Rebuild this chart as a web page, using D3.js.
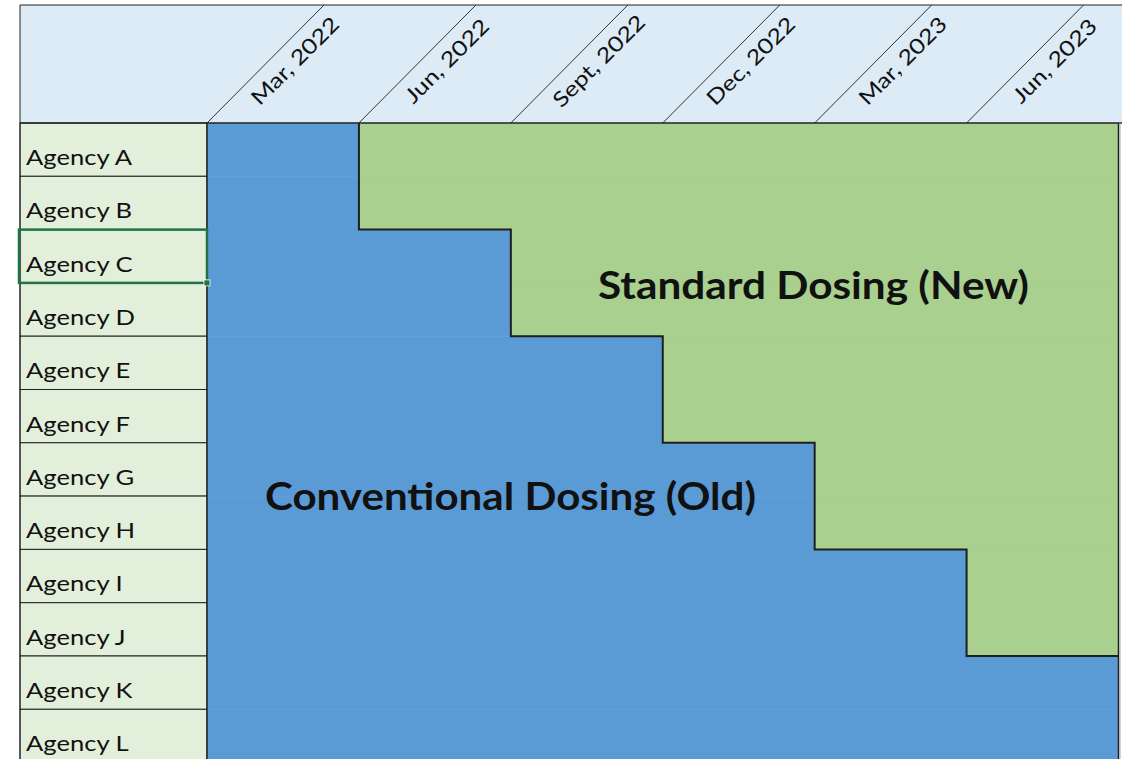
<!DOCTYPE html>
<html>
<head>
<meta charset="utf-8">
<script src="https://cdn.jsdelivr.net/npm/d3@7"></script>
<style>
  body { margin: 0; background: #fff; }
  svg { display: block; }
  text { font-family: Lato, "Open Sans", sans-serif; }
</style>
</head>
<body>
<svg width="1125" height="759"></svg>
<script>
// quarters along the top
const months = ["Mar, 2022", "Jun, 2022", "Sept, 2022", "Dec, 2022", "Mar, 2023", "Jun, 2023"];
// agencies down the side
const agencies = ["Agency A", "Agency B", "Agency C", "Agency D", "Agency E", "Agency F",
                  "Agency G", "Agency H", "Agency I", "Agency J", "Agency K", "Agency L"];
// quarter each agency switches to standard dosing (null = not yet)
const switchMonth = ["Jun, 2022", "Jun, 2022", "Sept, 2022", "Sept, 2022", "Dec, 2022", "Dec, 2022",
                     "Mar, 2023", "Mar, 2023", "Jun, 2023", "Jun, 2023", null, null];
const selectedAgency = "Agency C";

const blue = "#5b9bd5", green = "#a9d08e";
const headFill = "#ddebf7", sideFill = "#e2efda";

const svg = d3.select("svg");
const x0 = 20, y0 = 5, headBottom = 123, labelRight = 207, xMax = 1118.5;
const rowH = 53.3;

const x = d3.scaleBand().domain(months).range([labelRight, xMax]);
const y = d3.scaleBand().domain(agencies).range([headBottom, headBottom + rowH * agencies.length]);
const xEnd = x.range()[1];

// header band
svg.append("rect")
    .attr("x", x0).attr("y", y0)
    .attr("width", 1122 - x0).attr("height", headBottom - y0)
    .attr("fill", headFill);
svg.append("line")
    .attr("x1", x0).attr("x2", 1122).attr("y1", y0).attr("y2", y0)
    .attr("stroke", "#222").attr("stroke-width", 1.2);

// diagonal header dividers + labels
const rise = headBottom - y0;
const head = svg.append("g").selectAll("g").data(months).join("g");
head.append("line")
    .attr("x1", d => x(d)).attr("y1", headBottom)
    .attr("x2", d => x(d) + rise - 1).attr("y2", y0)
    .attr("stroke", "#333").attr("stroke-width", 1);
head.append("text")
    .attr("transform", d => `translate(${x(d) + 88},${61}) rotate(-45) scale(1.2,1)`)
    .attr("text-anchor", "middle")
    .attr("dy", "0.35em")
    .attr("font-size", 21)
    .attr("fill", "#111")
    .text(d => d);

// left label column
const rows = svg.append("g").selectAll("g").data(agencies).join("g");
rows.append("rect")
    .attr("x", x0).attr("y", d => y(d))
    .attr("width", labelRight - x0).attr("height", y.bandwidth())
    .attr("fill", sideFill)
    .attr("stroke", "#222").attr("stroke-width", 1);
rows.append("text")
    .attr("transform", d => `translate(${x0 + 6},${y(d) + 42}) scale(1.22,1)`)
    .attr("font-size", 21)
    .attr("fill", "#111")
    .text(d => d);

// blue (old) and green (new) cells
svg.append("g").selectAll("rect").data(agencies).join("rect")
    .attr("x", x(months[0])).attr("y", d => y(d))
    .attr("width", xEnd - x(months[0])).attr("height", y.bandwidth() + 0.5)
    .attr("fill", blue);

const greenRows = agencies.map((a, i) => ({ a, m: switchMonth[i] })).filter(d => d.m);
svg.append("g").selectAll("rect").data(greenRows).join("rect")
    .attr("x", d => x(d.m)).attr("y", d => y(d.a))
    .attr("width", d => xEnd - x(d.m)).attr("height", y.bandwidth() + 0.5)
    .attr("fill", green);

// step outline around the new-dosing area
const pts = [];
greenRows.forEach(d => {
    pts.push([x(d.m), y(d.a)]);
    pts.push([x(d.m), y(d.a) + y.bandwidth()]);
});
const last = greenRows[greenRows.length - 1];
pts.push([xEnd, y(last.a) + y.bandwidth()]);
svg.append("path")
    .attr("d", d3.line()(pts))
    .attr("fill", "none")
    .attr("stroke", "#1e1e1e").attr("stroke-width", 2);

// frame lines
svg.append("line")
    .attr("x1", x0).attr("x2", 1122).attr("y1", headBottom).attr("y2", headBottom)
    .attr("stroke", "#222").attr("stroke-width", 1.5);
svg.append("line")
    .attr("x1", labelRight).attr("x2", labelRight).attr("y1", headBottom).attr("y2", 759)
    .attr("stroke", "#222").attr("stroke-width", 1.5);
svg.append("line")
    .attr("x1", x0).attr("x2", x0).attr("y1", y0).attr("y2", 759)
    .attr("stroke", "#222").attr("stroke-width", 1);
svg.append("line")
    .attr("x1", xEnd).attr("x2", xEnd).attr("y1", headBottom).attr("y2", 759)
    .attr("stroke", "#1e1e1e").attr("stroke-width", 1.5);
svg.append("line")
    .attr("x1", xEnd + 1.5).attr("x2", xEnd + 1.5).attr("y1", headBottom).attr("y2", 759)
    .attr("stroke", "#aaa").attr("stroke-width", 1);

// area captions
svg.append("text")
    .attr("x", 598).attr("y", 299)
    .attr("font-size", 38).attr("font-weight", "bold")
    .attr("textLength", 431).attr("lengthAdjust", "spacingAndGlyphs")
    .attr("fill", "#111")
    .text("Standard Dosing (New)");
svg.append("text")
    .attr("x", 265).attr("y", 510)
    .attr("font-size", 38).attr("font-weight", "bold")
    .attr("textLength", 491).attr("lengthAdjust", "spacingAndGlyphs")
    .attr("fill", "#111")
    .text("Conventional Dosing (Old)");

// spreadsheet selection box on one label cell
svg.append("rect")
    .attr("x", x0 - 1).attr("y", y(selectedAgency))
    .attr("width", labelRight - x0 + 1).attr("height", y.bandwidth())
    .attr("fill", "none")
    .attr("stroke", "#217346").attr("stroke-width", 2.5);
svg.append("rect")
    .attr("x", labelRight - 3).attr("y", y(selectedAgency) + y.bandwidth() - 3)
    .attr("width", 6).attr("height", 6)
    .attr("fill", "#217346").attr("stroke", "#fff").attr("stroke-width", 0.8);
</script>
</body>
</html>
